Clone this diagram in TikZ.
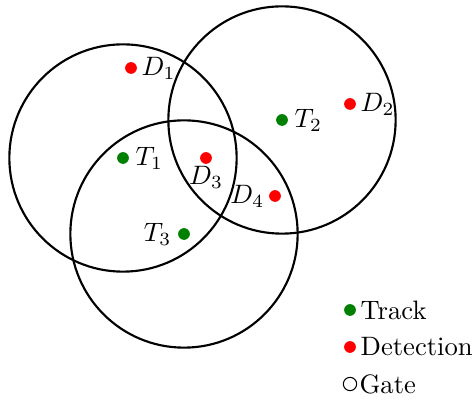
\documentclass[tikz,border=0pt]{standalone}
\begin{document}
\begin{tikzpicture}[x=0.0132cm,y=-0.0132cm,thick,
  track/.style={circle,fill=green!50!black,inner sep=0pt,minimum size=4.4pt},
  detection/.style={circle,fill=red,inner sep=0pt,minimum size=4.4pt}]
 \useasboundingbox (0,0) rectangle (472,405);
 % tracks and gates
 \node[track] (T1) at (123,158) {};
 \node[track] (T2) at (282,120) {};
 \node[track] (T3) at (184,234) {};
 \draw (T1.center) circle[radius=1.5cm];
 \draw (T2.center) circle[radius=1.5cm];
 \draw (T3.center) circle[radius=1.5cm];
 \node[right=1pt] at (T1) {\(T_1\)};
 \node[right=1pt] at (T2) {\(T_2\)};
 \node[left=1pt] at (T3) {\(T_3\)};
 % detections
 \node[detection,label={[inner sep=1pt]right:\(D_1\)}] (D1) at (131,68) {};
 \node[detection,label={[inner sep=1pt]right:\(D_2\)}] (D2) at (350,104) {};
 \node[detection,label={[inner sep=0pt]below:\(D_3\)}] (D3) at (206,158) {};
 \node[detection,label={[inner sep=1pt]left:\(D_4\)}] (D4) at (275,196) {};
 % legend
 \node[track,label={[inner sep=1pt]right:Track}] (LT) at (350,310) {};
 \node[detection,label={[inner sep=1pt]right:Detection}] (LD) at (350,347) {};
 \node[circle,draw,thin,inner sep=0pt,minimum size=5pt,label={[inner sep=0.5pt]right:Gate}] (LG) at (350,384) {};
\end{tikzpicture}
\end{document}
